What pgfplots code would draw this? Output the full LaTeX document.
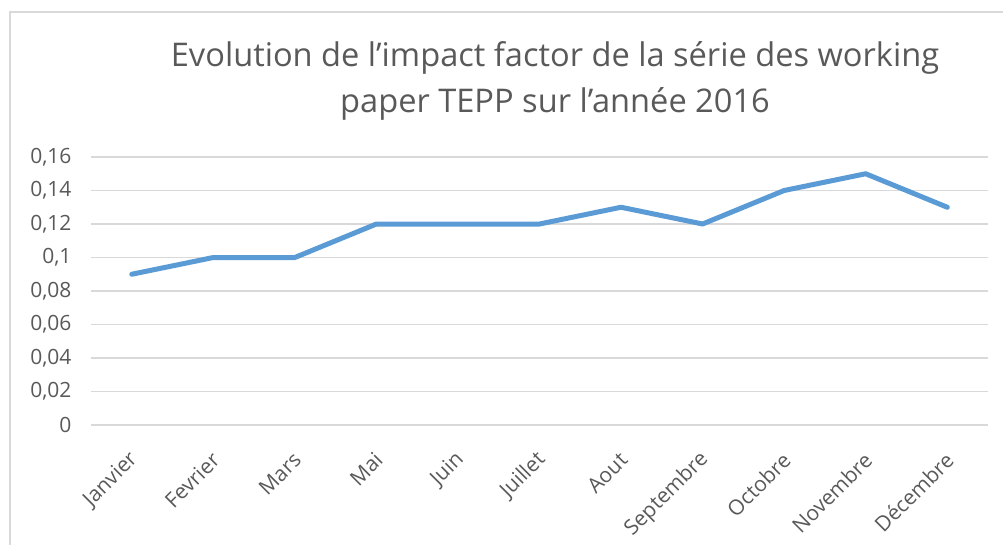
\documentclass[border=0pt]{standalone}
\usepackage{pgfplots}
\pgfplotsset{compat=1.18}
\usepackage{fontspec}
\setmainfont{Open Sans}
\definecolor{lineblue}{HTML}{5B9BD5}
\definecolor{txtgray}{HTML}{595959}
\definecolor{gridgray}{HTML}{D9D9D9}
\begin{document}
\begin{tikzpicture}[x=1pt,y=1pt]
\path[use as bounding box] (0,0) rectangle (1003,544);
\draw[gridgray, line width=1.2pt] (10,-5) -- (10,532) -- (1010,532);
\node[txtgray, font=\fontsize{32.6}{46}\selectfont, align=center, anchor=base] at (555,431) {Evolution de l'impact factor de la série des working\\paper TEPP sur l'année 2016};
\begin{axis}[
  at={(91pt,119pt)}, anchor=south west,
  scale only axis, width=897pt, height=268pt,
  xmin=-0.5, xmax=10.5, ymin=0, ymax=0.16,
  axis line style={draw=none},
  major tick length=0pt,
  ymajorgrids, grid style={draw=gridgray, line width=1.2pt},
  ytick={0,0.02,0.04,0.06,0.08,0.1,0.12,0.14,0.16},
  yticklabels={0,{0,02},{0,04},{0,06},{0,08},{0,1},{0,12},{0,14},{0,16}},
  xtick={0,...,10},
  xticklabels={Janvier,Fevrier,Mars,Mai,Juin,Juillet,Aout,Septembre,Octobre,Novembre,Décembre},
  yticklabel style={font=\fontsize{21}{24}\selectfont, text=txtgray, anchor=east, xshift=-16pt},
  xticklabel style={font=\fontsize{21}{24}\selectfont, text=txtgray, rotate=45, anchor=east, xshift=-17pt, yshift=-24pt},
]
\addplot[lineblue, line width=5pt, line join=round, line cap=round] coordinates {
(0,0.09) (1,0.10) (2,0.10) (3,0.12) (4,0.12) (5,0.12) (6,0.13) (7,0.12) (8,0.14) (9,0.15) (10,0.13)
};
\end{axis}
\end{tikzpicture}
\end{document}
